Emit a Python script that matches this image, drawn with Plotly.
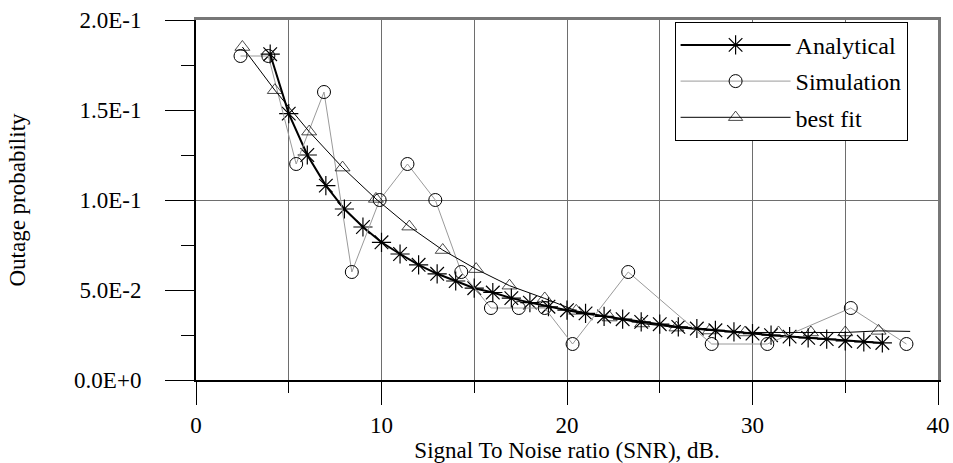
import plotly.graph_objects as go

# ---- data ----
analytical_x = [4, 5, 6, 7, 8, 9, 10, 11, 12, 13, 14, 15, 16, 17, 18, 19, 20,
                21, 22, 23, 24, 25, 26, 27, 28, 29, 30, 31, 32, 33, 34, 35, 36, 37]
analytical_y = [0.181, 0.148, 0.125, 0.108, 0.095, 0.085, 0.0765, 0.070, 0.064,
                0.059, 0.055, 0.051, 0.0486, 0.0455, 0.043, 0.0407, 0.0388,
                0.037, 0.0353, 0.0338, 0.0323, 0.031, 0.0295, 0.0286, 0.0276,
                0.0267, 0.0258, 0.0249, 0.0241, 0.0234, 0.0227, 0.0217, 0.0212,
                0.0206]

simulation_x = [2.4, 3.9, 5.4, 6.9, 8.4, 9.9, 11.4, 12.9, 14.3, 15.9, 17.4,
                18.8, 20.3, 23.3, 27.8, 30.8, 35.3, 38.3]
simulation_y = [0.18, 0.18, 0.12, 0.16, 0.06, 0.10, 0.12, 0.10, 0.06, 0.04,
                0.04, 0.04, 0.02, 0.06, 0.02, 0.02, 0.04, 0.02]

bestfit_x = [2.5, 4.25, 6.1, 7.9, 9.7, 11.5, 13.3, 15.1, 16.9, 18.8, 20.5,
             22.3, 24.05, 25.9, 27.7, 29.6, 31.4, 33.15, 35.0, 36.8, 38.5]
bestfit_y = [0.185, 0.161, 0.138, 0.118, 0.1006, 0.0852, 0.0722, 0.0616,
             0.0524, 0.0453, 0.0384, 0.0347, 0.0314, 0.0291, 0.0275, 0.0264,
             0.0264, 0.0264, 0.0264, 0.0273, 0.027]

y_tick_vals = [0.0, 0.05, 0.10, 0.15, 0.20]
y_tick_text = ["0.0E+0", "5.0E-2", "1.0E-1", "1.5E-1", "2.0E-1"]
x_tick_vals = [0, 10, 20, 30, 40]

FONT = "Liberation Serif, Times New Roman, serif"
FS = 23
GRID = "#6e6e6e"

fig = go.Figure()

fig.add_trace(go.Scatter(
    x=analytical_x, y=analytical_y, name="Analytical", mode="lines+markers",
    line=dict(color="black", width=2),
    marker=dict(symbol="asterisk-open", size=16, color="black",
                line=dict(color="black", width=1.2)),
    legendgroup="a"))

fig.add_trace(go.Scatter(
    x=simulation_x, y=simulation_y, name="Simulation", mode="lines+markers",
    line=dict(color="#9a9a9a", width=1),
    marker=dict(symbol="circle-open", size=13, color="black",
                line=dict(color="black", width=1)),
    legendgroup="b"))

bf_sizes = [13] * (len(bestfit_x) - 1) + [0]
fig.add_trace(go.Scatter(
    x=bestfit_x, y=bestfit_y, name="best fit", mode="lines+markers",
    line=dict(color="black", width=1),
    marker=dict(symbol="triangle-up-open", size=bf_sizes, color="black",
                line=dict(color="black", width=1)),
    legendgroup="c"))

# empty trace to anchor the overlay axes (frame + horizontal grid)
fig.add_trace(go.Scatter(x=[None], y=[None], xaxis="x2", yaxis="y2",
                         showlegend=False, hoverinfo="skip"))

fig.update_layout(
    width=953, height=463,
    margin=dict(l=196, r=15, t=20, b=83),
    paper_bgcolor="white", plot_bgcolor="white",
    font=dict(family=FONT, size=FS, color="black"),
    showlegend=True,
    legend=dict(x=0.645, y=0.995, xanchor="left", yanchor="top",
                bgcolor="white", bordercolor="black", borderwidth=1,
                font=dict(family=FONT, size=24, color="black"),
                itemwidth=110, tracegroupgap=2),
    xaxis=dict(
        range=[0, 40], tickvals=x_tick_vals, ticks="outside", ticklen=23,
        tickcolor="black", tickwidth=1, ticklabelstandoff=0,
        showline=True, linecolor="black", linewidth=2, automargin=False,
        showgrid=True, gridcolor=GRID, gridwidth=1, zeroline=False,
        minor=dict(dtick=5, ticks="outside", ticklen=11, tickcolor="black",
                   showgrid=True, gridcolor=GRID, gridwidth=1),
        title=dict(text="Signal To Noise ratio (SNR), dB.", standoff=2,
                   font=dict(family=FONT, size=FS)),
    ),
    yaxis=dict(
        range=[0, 0.2], tickvals=y_tick_vals, ticktext=y_tick_text,
        ticks="outside", ticklen=29, tickcolor="black", tickwidth=1,
        ticklabelstandoff=19, automargin=False,
        showline=True, linecolor="black", linewidth=2,
        showgrid=False, zeroline=False,
        minor=dict(dtick=0.025, ticks="outside", ticklen=13,
                   tickcolor="black", showgrid=False),
        title=dict(text="Outage probability", standoff=42,
                   font=dict(family=FONT, size=FS)),
    ),
    xaxis2=dict(overlaying="x", side="top", anchor="y2", range=[0, 40],
                showline=True, linecolor="#777777", linewidth=3,
                showgrid=False, zeroline=False, showticklabels=False,
                ticks=""),
    yaxis2=dict(overlaying="y", side="right", anchor="x2", range=[0, 0.2],
                dtick=0.1, showline=True, linecolor="#777777", linewidth=3,
                showgrid=True, gridcolor=GRID, gridwidth=1, zeroline=False,
                showticklabels=False, ticks=""),
)

fig.write_html("out.html")
